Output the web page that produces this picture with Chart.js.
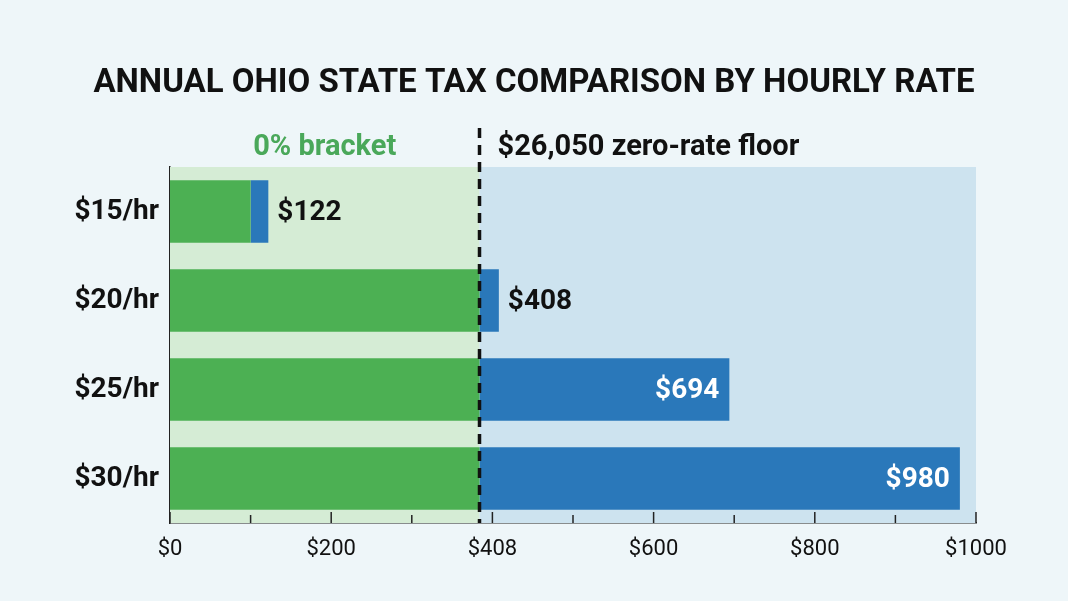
<!DOCTYPE html>
<html>
<head>
<meta charset="utf-8">
<script src="https://cdn.jsdelivr.net/npm/chart.js@4.4.1/dist/chart.umd.min.js"></script>
<style>
  html, body { margin: 0; padding: 0; background: #eef6f9; }
  #wrap { width: 1068px; height: 601px; }
</style>
</head>
<body>
<div id="wrap"><canvas id="taxChart" width="1068" height="601"></canvas></div>
<script>
const rates = ['$15/hr', '$20/hr', '$25/hr', '$30/hr'];
const zeroBracketTax = [100, 384, 384, 384];
const taxedPortion = [22, 24, 310, 596];
const totalLabels = ['$122', '$408', '$694', '$980'];
const xTickLabels = ['$0', '', '$200', '', '$408', '', '$600', '', '$800', '', '$1000'];
const floorValue = 384;

const greenBar = '#4cb053';
const blueBar = '#2a78ba';

// background bands + dashed floor line + header texts
const decorPlugin = {
    id: 'decor',
    beforeDatasetsDraw(chart) {
        const { ctx, chartArea, scales } = chart;
        const xf = scales.x.getPixelForValue(floorValue);
        ctx.save();
        ctx.fillStyle = '#d5ecd5';
        ctx.fillRect(chartArea.left, chartArea.top, xf - chartArea.left, chartArea.bottom - chartArea.top);
        ctx.fillStyle = '#cde3ef';
        ctx.fillRect(xf, chartArea.top, chartArea.right - xf, chartArea.bottom - chartArea.top);
        ctx.restore();
    },
    afterDatasetsDraw(chart) {
        const { ctx, chartArea, scales } = chart;
        const xf = scales.x.getPixelForValue(floorValue);
        ctx.save();
        // dashed floor line
        ctx.strokeStyle = '#111';
        ctx.lineWidth = 3.5;
        ctx.setLineDash([10, 7]);
        ctx.beginPath();
        ctx.moveTo(xf, 128);
        ctx.lineTo(xf, chartArea.bottom);
        ctx.stroke();
        ctx.setLineDash([]);

        // x tick marks pointing up
        ctx.strokeStyle = '#222';
        ctx.lineWidth = 1.5;
        for (let v = 0; v <= 1000; v += 100) {
            const x = scales.x.getPixelForValue(v);
            const len = v % 200 === 0 ? 11 : 8;
            ctx.beginPath();
            ctx.moveTo(x, chartArea.bottom);
            ctx.lineTo(x, chartArea.bottom - len);
            ctx.stroke();
        }

        // title
        ctx.fillStyle = '#111';
        ctx.font = 'bold 33px Roboto';
        ctx.textAlign = 'center';
        ctx.textBaseline = 'alphabetic';
        ctx.fillText('ANNUAL OHIO STATE TAX COMPARISON BY HOURLY RATE', 534, 92);

        // bracket headers
        ctx.font = 'bold 29px Roboto';
        ctx.fillStyle = '#4aa85a';
        ctx.fillText('0% bracket', (chartArea.left + xf) / 2, 155);
        ctx.fillStyle = '#111';
        ctx.textAlign = 'left';
        ctx.fillText('$26,050 zero-rate floor', xf + 18, 155);

        // value labels
        const meta = chart.getDatasetMeta(1);
        ctx.font = 'bold 28px Roboto';
        ctx.textBaseline = 'middle';
        meta.data.forEach((bar, i) => {
            const inside = bar.x - bar.base > 150;
            if (inside) {
                ctx.fillStyle = '#fff';
                ctx.textAlign = 'right';
                ctx.fillText(totalLabels[i], bar.x - 10, bar.y + 1);
            } else {
                ctx.fillStyle = '#111';
                ctx.textAlign = 'left';
                ctx.fillText(totalLabels[i], bar.x + 9, bar.y + 1);
            }
        });
        ctx.restore();
    }
};

new Chart(document.getElementById('taxChart'), {
    type: 'bar',
    data: {
        labels: rates,
        datasets: [
            { label: '0% bracket', data: zeroBracketTax, backgroundColor: greenBar, barPercentage: 0.7, categoryPercentage: 1 },
            { label: 'Taxed', data: taxedPortion, backgroundColor: blueBar, barPercentage: 0.7, categoryPercentage: 1 }
        ]
    },
    options: {
        indexAxis: 'y',
        responsive: false,
        animation: false,
        layout: { padding: { top: 167, right: 92, left: 0, bottom: 0 } },
        plugins: {
            legend: { display: false },
            tooltip: { enabled: false }
        },
        scales: {
            x: {
                stacked: true,
                min: 0,
                max: 1000,
                grid: { display: false, drawTicks: false },
                border: { display: true, color: '#222', width: 1.5 },
                ticks: {
                    stepSize: 100,
                    autoSkip: false,
                    maxRotation: 0,
                    color: '#111',
                    font: { family: 'Roboto', size: 22 },
                    padding: 13,
                    callback: (v, i) => xTickLabels[i]
                },
                afterFit: (scale) => { scale.height = 78; }
            },
            y: {
                stacked: true,
                grid: { display: false, drawTicks: false },
                border: { display: true, color: '#222', width: 1.5 },
                ticks: {
                    color: '#111',
                    font: { family: 'Roboto', size: 28, weight: 'bold' },
                    padding: 11
                },
                afterFit: (scale) => { scale.width = 170; }
            }
        }
    },
    plugins: [decorPlugin]
});
</script>
</body>
</html>
